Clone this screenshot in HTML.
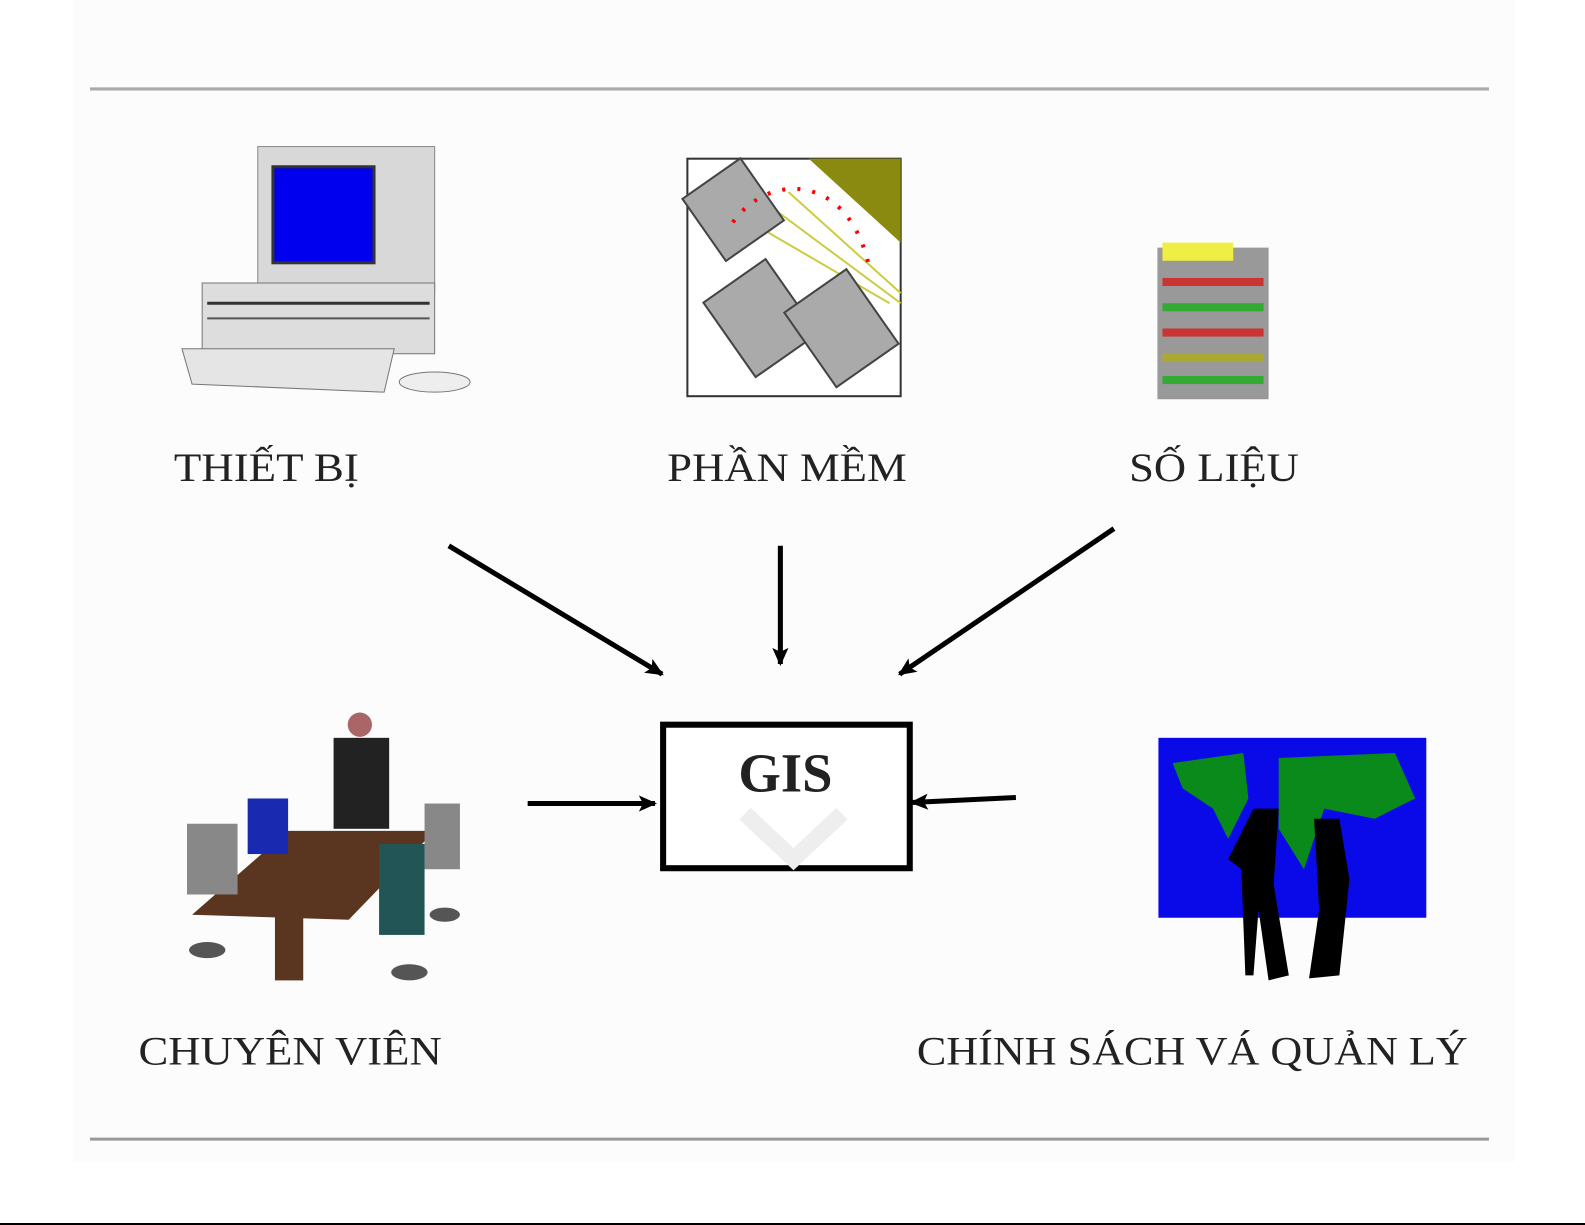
<!DOCTYPE html>
<html><head><meta charset="utf-8"><style>
html,body{margin:0;padding:0;background:#fff;width:1585px;height:1225px;overflow:hidden}
svg{display:block}
text{font-family:"Liberation Serif",serif;fill:#222}
</style></head><body>
<svg width="1585" height="1225" viewBox="0 0 1568 1212" preserveAspectRatio="none">
<defs>
<marker id="b" markerWidth="18" markerHeight="16" refX="16" refY="8" orient="auto" markerUnits="userSpaceOnUse"><path d="M0,0 L18,8 L0,16 L4,8 Z" fill="#000"/></marker></defs>
<rect x="72" y="0" width="1426" height="1150" fill="#fcfcfc"/>
<line x1="89" y1="88" x2="1473" y2="88" stroke="#aaa" stroke-width="3"/>
<line x1="89" y1="1127" x2="1473" y2="1127" stroke="#999" stroke-width="3"/>
<line x1="0" y1="1211" x2="1568" y2="1211" stroke="#000" stroke-width="2"/>

<!-- computer -->
<rect x="255" y="145" width="175" height="145" fill="#d8d8d8" stroke="#888"/>
<rect x="270" y="165" width="100" height="95" fill="#0000ee" stroke="#333" stroke-width="3"/>
<rect x="200" y="280" width="230" height="70" fill="#ddd" stroke="#777"/>
<line x1="205" y1="300" x2="425" y2="300" stroke="#333" stroke-width="3"/>
<line x1="205" y1="315" x2="425" y2="315" stroke="#555" stroke-width="2"/>
<path d="M180,345 L390,345 L380,388 L190,380 Z" fill="#e5e5e5" stroke="#777"/>
<ellipse cx="430" cy="378" rx="35" ry="10" fill="#eee" stroke="#777"/>

<!-- software -->
<rect x="680" y="157" width="211" height="235" fill="#fff" stroke="#333" stroke-width="2"/>
<path d="M800,157 L891,157 L891,240 Z" fill="#8a8a10"/>
<g stroke="#cc4" stroke-width="2"><line x1="780" y1="190" x2="891" y2="290"/><line x1="770" y1="210" x2="891" y2="300"/><line x1="760" y1="230" x2="880" y2="300"/></g>
<g fill="#aaa" stroke="#444" stroke-width="2">
<rect x="690" y="170" width="70" height="75" transform="rotate(-35 725 207)"/>
<rect x="715" y="270" width="75" height="90" transform="rotate(-35 752 315)"/>
<rect x="795" y="280" width="75" height="90" transform="rotate(-35 832 325)"/>
</g>
<path d="M725,220 C760,170 840,170 860,265" stroke="red" stroke-width="4" stroke-dasharray="3 12" fill="none"/>

<!-- data stack -->
<g>
<rect x="1145" y="245" width="110" height="150" fill="#999"/>
<rect x="1150" y="240" width="70" height="18" fill="#ee4"/>
<rect x="1150" y="275" width="100" height="8" fill="#c33"/>
<rect x="1150" y="300" width="100" height="8" fill="#3a3"/>
<rect x="1150" y="325" width="100" height="8" fill="#c33"/>
<rect x="1150" y="350" width="100" height="8" fill="#aa3"/>
<rect x="1150" y="372" width="100" height="8" fill="#3a3"/>
</g>

<text x="172" y="476" font-size="40" textLength="183" lengthAdjust="spacingAndGlyphs">THIẾT BỊ</text>
<text x="660" y="476" font-size="40" textLength="237" lengthAdjust="spacingAndGlyphs">PHẦN MỀM</text>
<text x="1117" y="476" font-size="40" textLength="168" lengthAdjust="spacingAndGlyphs">SỐ LIỆU</text>

<g stroke="#000" stroke-width="5">
<line x1="444" y1="540" x2="655" y2="667" marker-end="url(#b)"/>
<line x1="772" y1="540" x2="772" y2="657" marker-end="url(#b)"/>
<line x1="1102" y1="523" x2="890" y2="667" marker-end="url(#b)"/>
<line x1="522" y1="795" x2="648" y2="795" marker-end="url(#b)"/>
<line x1="1005" y1="789" x2="902" y2="794" marker-end="url(#b)"/>
</g>

<rect x="656" y="717" width="244" height="142" fill="#fff" stroke="#000" stroke-width="6"/>
<path d="M737,805 L785,850 L833,805" stroke="#eee" stroke-width="16" fill="none"/>
<text x="777" y="783" font-size="54" font-weight="bold" text-anchor="middle" fill="#000">GIS</text>

<!-- meeting -->
<path d="M190,905 L285,822 L430,822 L345,910 Z" fill="#5a3520"/>
<rect x="272" y="905" width="28" height="65" fill="#5a3520"/>
<rect x="330" y="730" width="55" height="90" fill="#222"/>
<circle cx="356" cy="717" r="12" fill="#a66"/>
<rect x="185" y="815" width="50" height="70" fill="#888"/>
<rect x="245" y="790" width="40" height="55" fill="#1a2ab0"/>
<rect x="420" y="795" width="35" height="65" fill="#888"/>
<rect x="375" y="835" width="45" height="90" fill="#255"/>
<g fill="#555"><ellipse cx="205" cy="940" rx="18" ry="8"/><ellipse cx="405" cy="962" rx="18" ry="8"/><ellipse cx="440" cy="905" rx="15" ry="7"/></g>

<!-- map -->
<rect x="1146" y="730" width="265" height="178" fill="#0a0ae8"/>
<path d="M1160,755 L1230,745 L1235,790 L1215,830 L1200,800 L1170,780 Z" fill="#0a8a1a"/>
<path d="M1265,750 L1380,745 L1400,790 L1360,810 L1310,800 L1290,860 L1265,820 Z" fill="#0a8a1a"/>
<path d="M1240,800 L1265,800 L1260,875 L1275,965 L1255,970 L1245,900 L1240,965 L1232,965 L1228,860 L1215,850 Z" fill="#000"/>
<path d="M1300,810 L1325,810 L1335,870 L1325,965 L1295,968 L1305,900 Z" fill="#000"/>

<text x="137" y="1053" font-size="40" textLength="300" lengthAdjust="spacingAndGlyphs">CHUYÊN VIÊN</text>
<text x="907" y="1053" font-size="40" textLength="545" lengthAdjust="spacingAndGlyphs">CHÍNH SÁCH VÁ QUẢN LÝ</text>
</svg>
</body></html>
